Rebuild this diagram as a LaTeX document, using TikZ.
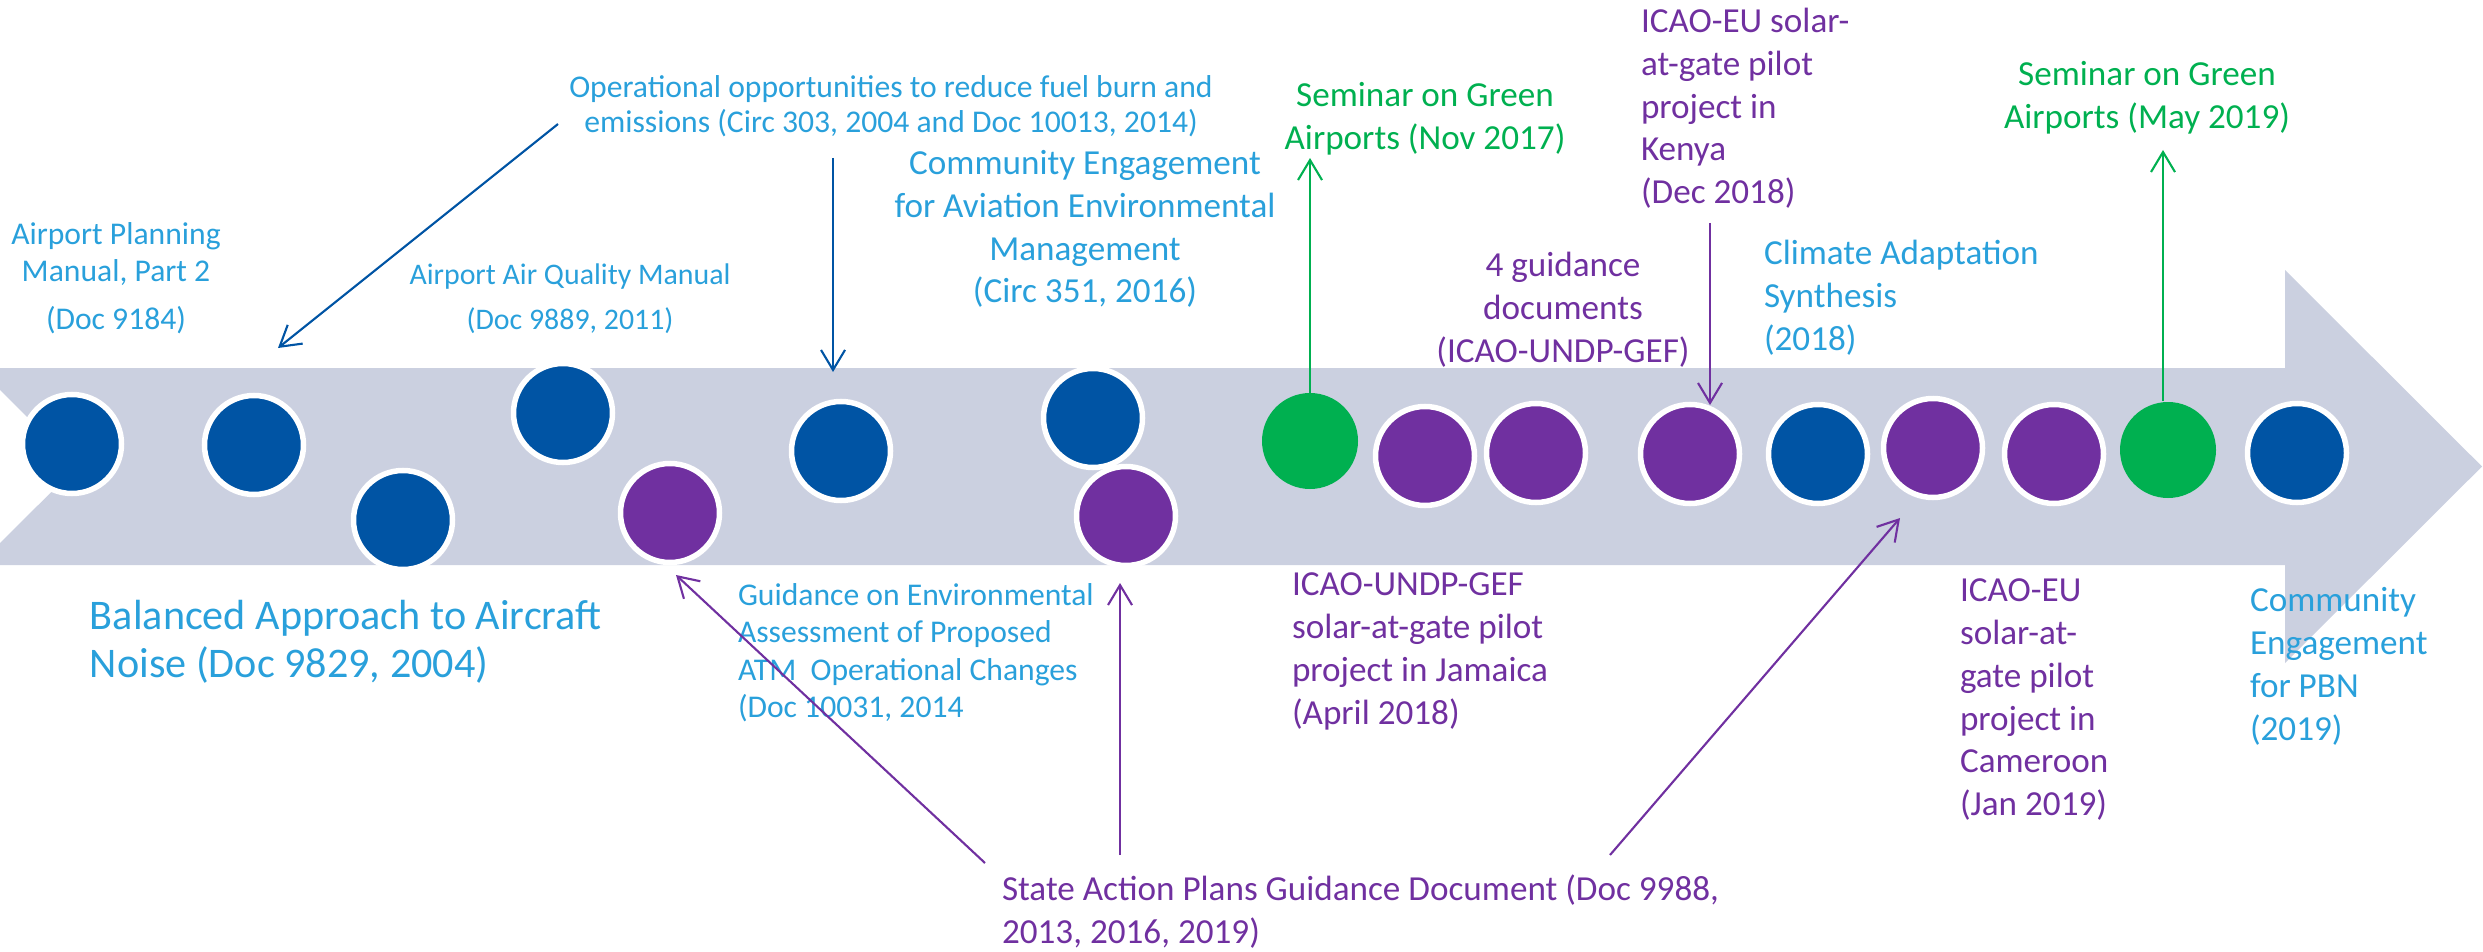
\documentclass[tikz,border=0pt]{standalone}
\usepackage{fontspec}
\setmainfont{Carlito}
\usetikzlibrary{arrows.meta}
\definecolor{bandgrey}{RGB}{203,208,224}
\definecolor{dotblue}{RGB}{0,84,164}
\definecolor{dotpurple}{RGB}{112,48,160}
\definecolor{dotgreen}{RGB}{0,176,80}
\definecolor{txtblue}{RGB}{41,160,219}

\tikzset{
  dot/.style={circle, inner sep=0pt, outer sep=0pt, minimum size=9.9mm, draw=white, line width=0.55mm},
  bluedot/.style={dot, fill=dotblue},
  purpledot/.style={dot, fill=dotpurple},
  greendot/.style={circle, inner sep=0pt, outer sep=0pt, minimum size=9.6mm, fill=dotgreen},
  lbl/.style={inner sep=0pt, outer sep=0pt},
  bigtxt/.style={lbl, font=\fontsize{12}{12.5}\selectfont},
  normtxt/.style={lbl, font=\fontsize{10}{12.15}\selectfont},
  link/.style={line width=0.6pt, -{Straight Barb[length=2mm,width=2.4mm]}},
}

\begin{document}
\begin{tikzpicture}[x=0.1mm, y=-0.1mm]
\useasboundingbox (0,0) rectangle (2483,952);

% timeline arrow
\fill[bandgrey] (0,368) -- (2285,368) -- (2285,270) -- (2482,466.5) -- (2285,663)
  -- (2285,565) -- (0,565) -- (0,543) -- (77,466.5) -- (0,390) -- cycle;

% milestones
\node[bluedot]   (c1)  at (72,444)   {};
\node[bluedot]   (c2)  at (254,445)  {};
\node[bluedot]   (c3)  at (403,520)  {};
\node[bluedot]   (c4)  at (563,413)  {};
\node[purpledot] (c5)  at (670,513)  {};
\node[bluedot]   (c6)  at (841,451)  {};
\node[bluedot]   (c7)  at (1093,418) {};
\node[purpledot] (c8)  at (1126,516) {};
\node[greendot]  (c9)  at (1310,441) {};
\node[purpledot] (c10) at (1425,456) {};
\node[purpledot] (c11) at (1536,453) {};
\node[purpledot] (c12) at (1690,454) {};
\node[bluedot]   (c13) at (1818,454) {};
\node[purpledot] (c14) at (1933,448) {};
\node[purpledot] (c15) at (2054,454) {};
\node[greendot]  (c16) at (2168,450) {};
\node[bluedot]   (c17) at (2297,453) {};

% labels above the timeline
\node[lbl, txtblue, align=center, anchor=north, font=\fontsize{9}{10}\selectfont] (tops) at (891,72.5)
  {\strut Operational opportunities to reduce fuel burn and\\emissions (Circ 303, 2004 and Doc 10013, 2014)};
\node[lbl, txtblue, align=center, anchor=north, font=\fontsize{9}{10.5}\selectfont] (tapm) at (116,219)
  {\strut Airport Planning\\Manual, Part 2\\[3pt](Doc 9184)};
\node[lbl, txtblue, align=center, anchor=north, font=\fontsize{8.5}{12.8}\selectfont] (taqm) at (570,253.5)
  {\strut Airport Air Quality Manual\\(Doc 9889, 2011)};
\node[normtxt, txtblue, align=center, anchor=north] (tcea) at (1085,145)
  {\strut Community Engagement\\for Aviation Environmental\\Management\\(Circ 351, 2016)};
\node[normtxt, dotgreen, align=center, anchor=north] (tsg1) at (1425,77)
  {\strut Seminar on Green\\Airports (Nov 2017)};
\node[normtxt, dotpurple, align=left, anchor=north west] (tken) at (1641,3)
  {\strut ICAO-EU solar-\\at-gate pilot\\project in\\Kenya\\(Dec 2018)};
\node[normtxt, dotpurple, align=center, anchor=north] (tgd) at (1563,247)
  {\strut 4 guidance\\documents\\(ICAO-UNDP-GEF)};
\node[normtxt, txtblue, align=left, anchor=north west] (tcas) at (1764,235)
  {\strut Climate Adaptation\\Synthesis\\(2018)};
\node[normtxt, dotgreen, align=center, anchor=north] (tsg2) at (2147,56)
  {\strut Seminar on Green\\Airports (May 2019)};

% labels below the timeline
\node[bigtxt, txtblue, align=left, anchor=north west] (tban) at (90,599)
  {\strut Balanced Approach to Aircraft\\Noise (Doc 9829, 2004)};
\node[lbl, txtblue, align=left, anchor=north west, font=\fontsize{9}{10.67}\selectfont] (tgea) at (738,579)
  {\strut Guidance on Environmental\\Assessment of Proposed\\ATM~ Operational Changes\\(Doc 10031, 2014};
\node[normtxt, dotpurple, align=left, anchor=north west] (tjam) at (1292,566)
  {\strut ICAO-UNDP-GEF\\solar-at-gate pilot\\project in Jamaica\\(April 2018)};
\node[normtxt, dotpurple, align=left, anchor=north west] (tcam) at (1960,572)
  {\strut ICAO-EU\\solar-at-\\gate pilot\\project in\\Cameroon\\(Jan 2019)};
\node[normtxt, txtblue, align=left, anchor=north west] (tpbn) at (2250,582)
  {\strut Community\\Engagement\\for PBN\\(2019)};
\node[normtxt, dotpurple, align=left, anchor=north west] (tsap) at (1002,871)
  {\strut State Action Plans Guidance Document (Doc 9988,\\2013, 2016, 2019)};

% connector ends
\coordinate (a1s) at (558,124);  \coordinate (a1e) at (278,348);
\coordinate (a2s) at (833,158);  \coordinate (a2e) at (833,372);
\coordinate (a3e) at (1310,158);
\coordinate (a4s) at (1710,223); \coordinate (a4e) at (1710,405);
\coordinate (a5s) at (2163,401); \coordinate (a5e) at (2163,150);
\coordinate (a6s) at (985,863);  \coordinate (a6e) at (676,575);
\coordinate (a7s) at (1120,855); \coordinate (a7e) at (1120,583);
\coordinate (a8s) at (1610,855); \coordinate (a8e) at (1900,518);

% connectors
\draw[link, dotblue] (a1s) -- (a1e);
\draw[link, dotblue] (a2s) -- (a2e);
\draw[link, dotgreen] (c9.north) -- (a3e);
\draw[link, dotpurple] (a4s) -- (a4e);
\draw[link, dotgreen] (a5s) -- (a5e);
\draw[link, dotpurple] (a6s) -- (a6e);
\draw[link, dotpurple] (a7s) -- (a7e);
\draw[link, dotpurple] (a8s) -- (a8e);
\end{tikzpicture}
\end{document}
